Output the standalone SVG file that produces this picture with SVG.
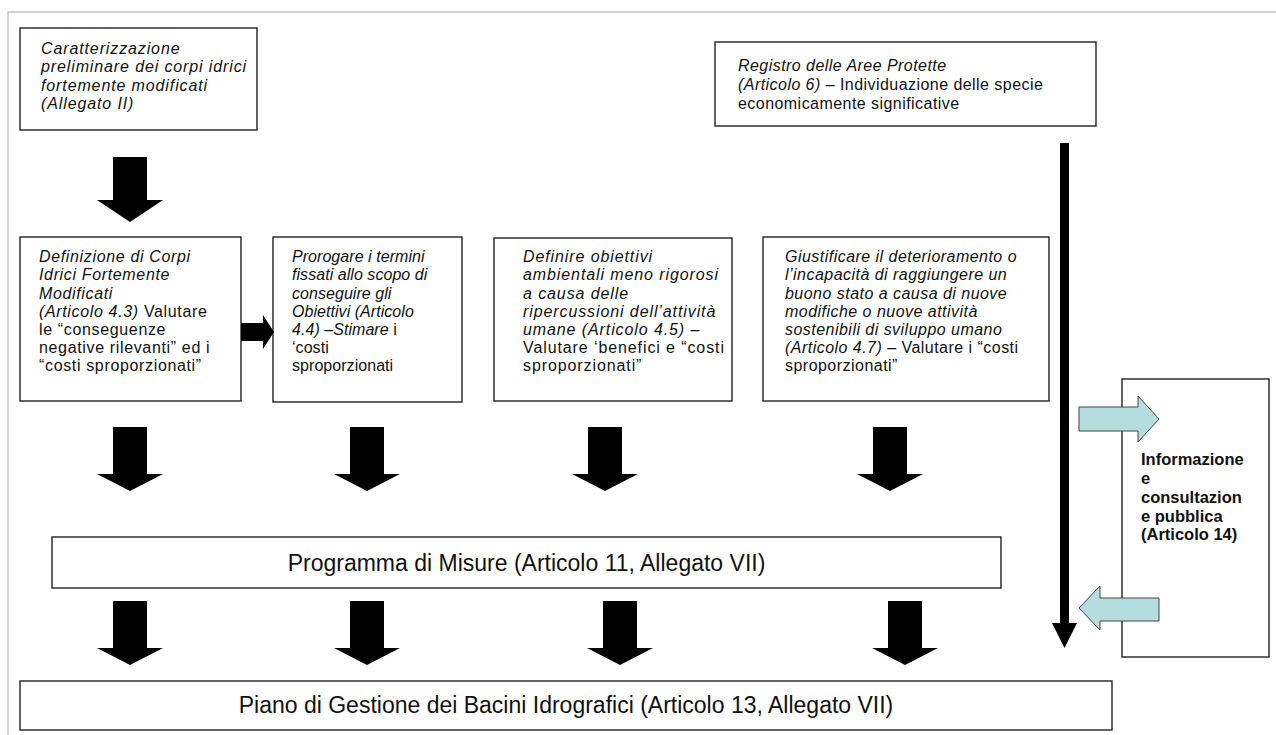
<svg xmlns="http://www.w3.org/2000/svg" width="1276" height="735" viewBox="0 0 1276 735">
<style>
.box{fill:#fff;stroke:#222;stroke-width:1.4}
.t{font-family:"Liberation Sans",Arial,sans-serif;font-size:16px;fill:#111}
.i{font-style:italic}
.b{font-weight:bold;font-size:16.5px}
.big{font-size:23px;text-anchor:middle}
.blk{fill:#000}
.cy{fill:#b5dde0;stroke:#444;stroke-width:1}
.pg{stroke:#c4c4c4;stroke-width:1.5;fill:none}
</style>
<rect x="0" y="0" width="1276" height="735" fill="#fff"/>
<path class="pg" d="M8 735V12H1276"/>

<g id="n1">
<rect class="box" x="20" y="28" width="237" height="102"/>
<g class="t i" letter-spacing="0.88">
<text x="41" y="53.5">Caratterizzazione</text>
<text x="41" y="72">preliminare dei corpi idrici</text>
<text x="41" y="90.5">fortemente modificati</text>
<text x="41" y="109">(Allegato II)</text>
</g>
</g>

<g id="nR">
<rect class="box" x="715" y="42" width="381" height="84"/>
<g class="t" letter-spacing="0.45">
<text x="738" y="71" class="i">Registro delle Aree Protette</text>
<text x="738" y="90"><tspan class="i">(Articolo 6)</tspan> – Individuazione delle specie</text>
<text x="738" y="109">economicamente significative</text>
</g>
</g>

<g id="nA">
<rect class="box" x="20" y="237" width="221" height="164"/>
<g class="t" letter-spacing="0.65">
<text x="39" y="262" class="i">Definizione di Corpi</text>
<text x="39" y="280" class="i">Idrici Fortemente</text>
<text x="39" y="298.5" class="i">Modificati</text>
<text x="39" y="316.5"><tspan class="i">(Articolo 4.3)</tspan> Valutare</text>
<text x="39" y="335">le “conseguenze</text>
<text x="39" y="353">negative rilevanti” ed i</text>
<text x="39" y="371">“costi sproporzionati”</text>
</g>
</g>

<g id="nB">
<rect class="box" x="273" y="237" width="189" height="165"/>
<g class="t" letter-spacing="0.05">
<text x="292" y="262" class="i">Prorogare i termini</text>
<text x="292" y="280" class="i">fissati allo scopo di</text>
<text x="292" y="298.5" class="i">conseguire gli</text>
<text x="292" y="316.5" class="i">Obiettivi (Articolo</text>
<text x="292" y="335"><tspan class="i">4.4) –Stimare</tspan> i</text>
<text x="292" y="353">‘costi</text>
<text x="292" y="371">sproporzionati</text>
</g>
</g>

<g id="nC">
<rect class="box" x="494" y="238" width="238" height="163"/>
<g class="t" letter-spacing="0.9">
<text x="523" y="262" class="i">Definire obiettivi</text>
<text x="523" y="280" class="i">ambientali meno rigorosi</text>
<text x="523" y="298.5" class="i">a causa delle</text>
<text x="523" y="316.5" class="i">ripercussioni dell’attività</text>
<text x="523" y="335" class="i">umane (Articolo 4.5) –</text>
<text x="523" y="353">Valutare ‘benefici e “costi</text>
<text x="523" y="371">sproporzionati”</text>
</g>
</g>

<g id="nD">
<rect class="box" x="763" y="237" width="286" height="164"/>
<g class="t" letter-spacing="0.47">
<text x="785" y="262" class="i">Giustificare il deterioramento o</text>
<text x="785" y="280" class="i">l’incapacità di raggiungere un</text>
<text x="785" y="298.5" class="i">buono stato a causa di nuove</text>
<text x="785" y="316.5" class="i">modifiche o nuove attività</text>
<text x="785" y="335" class="i">sostenibili di sviluppo umano</text>
<text x="785" y="353"><tspan class="i">(Articolo 4.7) –</tspan> Valutare i “costi</text>
<text x="785" y="371">sproporzionati”</text>
</g>
</g>

<g id="nI">
<rect class="box" x="1122" y="379" width="147" height="278"/>
<g class="t b">
<text x="1141" y="465">Informazione</text>
<text x="1141" y="484">e</text>
<text x="1141" y="503">consultazion</text>
<text x="1141" y="521.5">e pubblica</text>
<text x="1141" y="540">(Articolo 14)</text>
</g>
</g>

<g id="nP">
<rect class="box" x="52" y="537" width="949" height="51"/>
<text class="t big" x="526.5" y="571">Programma di Misure (Articolo 11, Allegato VII)</text>
</g>

<g id="nG">
<rect class="box" x="20" y="681" width="1092" height="49"/>
<text class="t big" x="566" y="713">Piano di Gestione dei Bacini Idrografici (Articolo 13, Allegato VII)</text>
</g>

<g id="connectors">
<path class="blk" d="M113 157H147V200H163L130 222L97 200H113Z"/>
<path class="blk" d="M241 323H263V315L274 332L263 349V341H241Z"/>
<path class="blk" d="M113 427H147V474H163L130 491L97 474H113Z"/>
<path class="blk" d="M350 427H384V474H400L367 491L334 474H350Z"/>
<path class="blk" d="M588 427H622V474H638L605 491L572 474H588Z"/>
<path class="blk" d="M873 427H907V474H923L890 491L857 474H873Z"/>
<path class="blk" d="M113 601H147V648H163L130 665L97 648H113Z"/>
<path class="blk" d="M350 601H384V648H400L367 665L334 648H350Z"/>
<path class="blk" d="M603 601H637V648H653L620 665L587 648H603Z"/>
<path class="blk" d="M888 601H922V648H938L905 665L872 648H888Z"/>
<path class="blk" d="M1060 143H1069V623H1077L1064.5 648L1052 623H1060Z"/>
<path class="cy" d="M1079 407H1138V396L1159 419L1138 442V431H1079Z"/>
<path class="cy" d="M1159 598H1100V586L1079 608L1100 630V621H1159Z"/>
</g>
</svg>
